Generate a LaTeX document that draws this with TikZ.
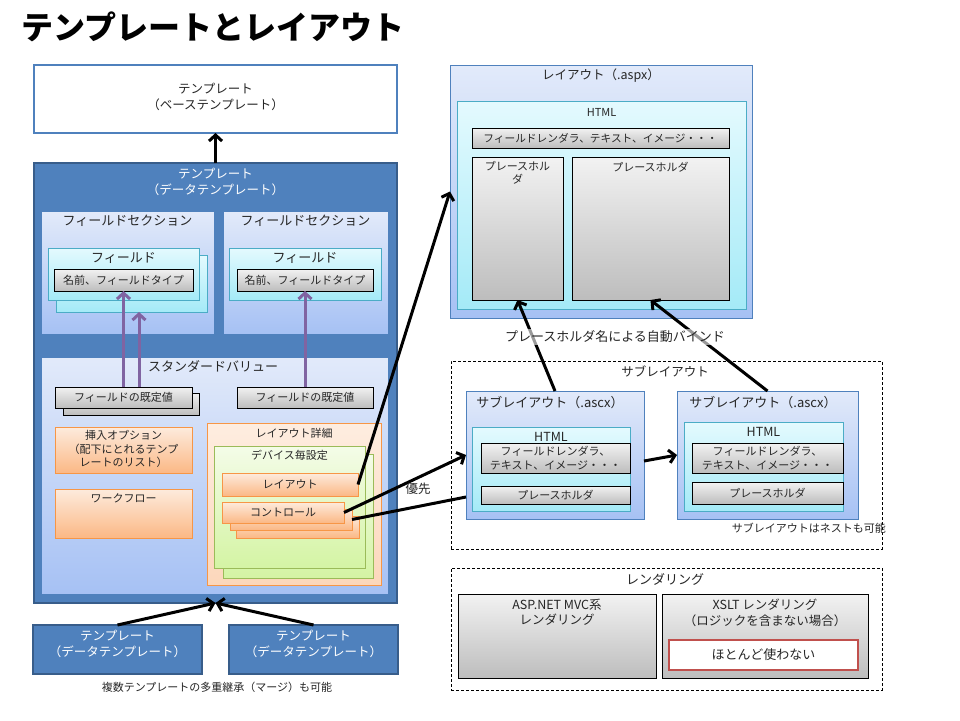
\documentclass[tikz,border=0pt]{standalone}
\usepackage{fontspec}
\setmainfont{Noto Sans CJK JP}
\usetikzlibrary{arrows.meta,calc,shadows}
\definecolor{blueB}{HTML}{4F81BD}
\definecolor{blueD}{HTML}{385D8A}
\definecolor{lavT}{HTML}{E2EAFA}
\definecolor{lavB}{HTML}{A6C1F4}
\definecolor{cyT}{HTML}{E4FAFE}
\definecolor{cyB}{HTML}{A4EAF7}
\definecolor{cyD}{HTML}{4BACC6}
\definecolor{grT}{HTML}{F2F2F2}
\definecolor{grB}{HTML}{BDBDBD}
\definecolor{orT}{HTML}{FDEBDD}
\definecolor{orB}{HTML}{FBB885}
\definecolor{orD}{HTML}{F79646}
\definecolor{ldT}{HTML}{FEEDE0}
\definecolor{ldB}{HTML}{FCD7BB}
\definecolor{gnT}{HTML}{F4FCE8}
\definecolor{gnB}{HTML}{D4F4A4}
\definecolor{gnD}{HTML}{9BBB59}
\definecolor{redD}{HTML}{C0504D}
\definecolor{purp}{HTML}{8064A2}
\definecolor{txtc}{HTML}{262626}
\newcommand\BX[6]{\node[#2, anchor=north west, inner sep=0pt, outer sep=0pt,
  minimum width={(#5)-(#3)}, minimum height={(#6)-(#4)}] (#1) at (#3,#4) {};}
\begin{document}
\begin{tikzpicture}[x=1pt,y=-1pt,
  shd/.style={drop shadow={opacity=0.22, shadow xshift=1.2pt, shadow yshift=-1.2pt}},
  basebox/.style={draw=blueB, line width=2.5pt, fill=white},
  dtbox/.style={draw=blueD, line width=2.5pt, fill=blueB},
  dtsmall/.style={draw=blueD, line width=1.5pt, fill=blueB},
  lav/.style={shd, draw=blueB, line width=0.7pt, top color=lavT, bottom color=lavB},
  cyanbox/.style={shd, draw=cyD, line width=0.7pt, top color=cyT, bottom color=cyB},
  graybox/.style={shd, draw=black, line width=0.8pt, top color=grT, bottom color=grB},
  orbox/.style={shd, draw=orD, line width=0.8pt, top color=orT, bottom color=orB},
  ldbox/.style={shd, draw=orD, line width=0.8pt, top color=ldT, bottom color=ldB},
  gnbox/.style={shd, draw=gnD, line width=0.8pt, top color=gnT, bottom color=gnB},
  dashbox/.style={draw=black, line width=0.7pt, dash pattern=on 3pt off 2pt},
  redbox/.style={draw=redD, line width=2.5pt, fill=white},
  arr/.style={draw=black, line width=3pt, -{Straight Barb[length=6pt,width=13pt]}},
  parr/.style={draw=purp, line width=3pt, -{Straight Barb[length=6pt,width=13pt]}},
  t13/.style={inner sep=0pt, align=center, text=txtc, font=\fontsize{13}{15.5}\selectfont},
  t12/.style={inner sep=0pt, align=center, text=txtc, font=\fontsize{12.5}{15.5}\selectfont},
  t11/.style={inner sep=0pt, align=center, text=txtc, font=\fontsize{11}{13.5}\selectfont},
  t10/.style={inner sep=0pt, align=center, text=txtc, font=\fontsize{10.7}{13}\selectfont},
  tw/.style={inner sep=0pt, align=center, text=white, font=\fontsize{12.5}{15.5}\selectfont},
]
\useasboundingbox (0,0) rectangle (960,720);
\fill[white] (0,0) rectangle (960,720);

% title
\node[anchor=west, inner sep=0pt, text=black, font=\fontsize{32}{36}\selectfont\bfseries] (title) at (21,27) {テンプレートとレイアウト};

% base template
\BX{base}{basebox}{34}{65}{397}{133}
\node[t12] (baset) at (215.5,97) {テンプレート\\（ベーステンプレート）};

% data template
\BX{dt}{dtbox}{34}{163}{397}{603}
\node[tw] (dtt) at (215.5,182) {テンプレート\\（データテンプレート）};

% field sections
\BX{fs1}{lav}{41}{211}{214}{334}
\node[t13] (fs1t) at (127.5,221) {フィールドセクション};
\BX{fs2}{lav}{223}{211}{388}{334}
\node[t13] (fs2t) at (305.5,221) {フィールドセクション};

\BX{fld1b}{cyanbox}{56}{255}{207}{312}
\BX{fld1}{cyanbox}{48}{248}{199}{300}
\node[t13] (fld1t) at (123.5,258) {フィールド};
\BX{nm1}{graybox}{54}{269}{193}{291}
\node[t11] (nm1t) at (123.5,280) {名前、フィールドタイプ};

\BX{fld2}{cyanbox}{229}{248}{381}{300}
\node[t13] (fld2t) at (305,258) {フィールド};
\BX{nm2}{graybox}{237}{269}{373}{291}
\node[t11] (nm2t) at (305,280) {名前、フィールドタイプ};

% standard values
\BX{sv}{lav}{41}{357}{388}{594}
\node[t13] (svt) at (213,366) {スタンダードバリュー};

\BX{dv1b}{graybox}{63}{393}{199}{415}
\BX{dv1}{graybox}{55}{387}{192}{408}
\node[t11] (dv1t) at (123.5,397.5) {フィールドの既定値};
\BX{dv2}{graybox}{237}{387}{373}{408}
\node[t11] (dv2t) at (305,397.5) {フィールドの既定値};

\coordinate (p2) at (139,0);
\draw[parr] (dv1.north) -- (nm1.south);
\draw[parr] (dv1.north -| p2) -- (fld1b.south -| p2);
\draw[parr] (dv2.north) -- (nm2.south);

\BX{ins}{orbox}{55}{427}{192}{473}
\node[t11] (inst) at (123.5,449) {挿入オプション\\（配下にとれるテンプ\\レートのリスト）};
\BX{wf}{orbox}{55}{489}{192}{538}
\node[t11] (wft) at (123.5,498) {ワークフロー};

\BX{ld}{ldbox}{207}{423}{381}{585}
\node[t11] (ldt) at (294,433) {レイアウト詳細};
\BX{dsb}{gnbox}{223}{454}{373}{578}
\BX{ds}{gnbox}{214}{446}{365}{568}
\node[t11] (dst) at (289.5,455.5) {デバイス毎設定};
\BX{lay}{orbox}{222}{473}{358}{496}
\node[t11] (layt) at (290,484.5) {レイアウト};
\BX{ctl3}{orbox}{236}{516}{359}{538}
\BX{ctl2}{orbox}{230}{509}{352}{530}
\BX{ctl}{orbox}{222}{502}{344}{523}
\node[t11] (ctlt) at (283,512.5) {コントロール};

% bottom templates
\BX{bt1}{dtsmall}{33}{625}{202}{674}
\node[tw] (bt1t) at (117.5,644) {テンプレート\\（データテンプレート）};
\BX{bt2}{dtsmall}{229}{625}{398}{674}
\node[tw] (bt2t) at (313.5,644) {テンプレート\\（データテンプレート）};
\node[t11] (cap) at (217,687) {複数テンプレートの多重継承（マージ）も可能};

% layout aspx
\BX{lyt}{lav}{450}{65}{752}{318}
\node[t12] (lytt) at (601,76) {レイアウト（.aspx）};
\BX{html}{cyanbox}{457}{101}{746}{309}
\node[t11] (htmlt) at (601.5,112) {HTML};
\BX{fr}{graybox}{472}{128}{729}{148}
\node[t10] (frt) at (600.5,138) {フィールドレンダラ、テキスト、イメージ・・・};
\BX{ph1}{graybox}{472}{157}{563}{300}
\node[t11, anchor=north] (ph1t) at (517.5,161) {プレースホル\\ダ};
\BX{ph2}{graybox}{572}{157}{729}{300}
\node[t11] (ph2t) at (650.5,167) {プレースホルダ};

% sublayouts
\BX{sl}{dashbox}{451}{361}{882}{549}
\node[t12] (slt) at (665,371) {サブレイアウト};

\BX{sub1}{lav}{466}{391}{644}{519}
\node[t13] (sub1t) at (550,403) {サブレイアウト（.ascx）};
\BX{h1}{cyanbox}{472}{427}{630}{511}
\node[t12] (h1t) at (551,436.5) {HTML};
\BX{r1}{graybox}{481}{443}{630}{473}
\node[t11] (r1t) at (555.5,458) {フィールドレンダラ、\\テキスト、イメージ・・・};
\BX{pp1}{graybox}{481}{486}{630}{504}
\node[t11] (pp1t) at (555.5,495) {プレースホルダ};

\BX{sub2}{lav}{677}{391}{858}{519}
\node[t13] (sub2t) at (763,403) {サブレイアウト（.ascx）};
\BX{h2}{cyanbox}{684}{422}{843}{511}
\node[t12] (h2t) at (763.5,432) {HTML};
\BX{r2}{graybox}{692}{443}{843}{473}
\node[t11] (r2t) at (767.5,458) {フィールドレンダラ、\\テキスト、イメージ・・・};
\BX{pp2}{graybox}{692}{482}{843}{504}
\node[t11] (pp2t) at (767.5,493) {プレースホルダ};
\node[t11, anchor=east] (nest) at (886,528) {サブレイアウトはネストも可能};

% rendering
\BX{rend}{dashbox}{451}{568}{882}{690}
\node[t13] (rendt) at (665,579) {レンダリング};
\BX{asp}{graybox}{458}{594}{656}{678}
\node[t12] (aspt) at (557,612.5) {ASP.NET MVC系\\レンダリング};
\BX{xslt}{graybox}{662}{594}{868}{678}
\node[t12] (xsltt) at (765,613) {XSLT レンダリング\\（ロジックを含まない場合）};
\BX{red}{redbox}{669}{640}{858}{670}
\node[t13] (redt) at (763.5,655) {ほとんど使わない};

% connectors
\draw[arr] (dt.north) -- (base.south);
\draw[arr] (bt1.north) -- (dt.south);
\draw[arr] (bt2.north) -- (dt.south);
\draw[arr] (lay.east) -- (lyt.west);
\draw[arr] (ctl.east) -- (sub1.west);
\coordinate (c2in) at ($(sub1.south west)+(0,-22)$);
\draw[line width=3pt, black] (ctl2.east) -- (c2in);
\node[t12] (prio) at (418,489) {優先};
\draw[arr] ($(sub1.east)+(0,6)$) -- (sub2.west);
\draw[arr] (sub1.north) -- (ph1.south);
\draw[arr] (sub2.north) -- (ph2.south);
\node[t13, fill=white, fill opacity=0.6, text opacity=1, inner sep=2pt] (bind) at (615,337) {プレースホルダ名による自動バインド};
\end{tikzpicture}
\end{document}
